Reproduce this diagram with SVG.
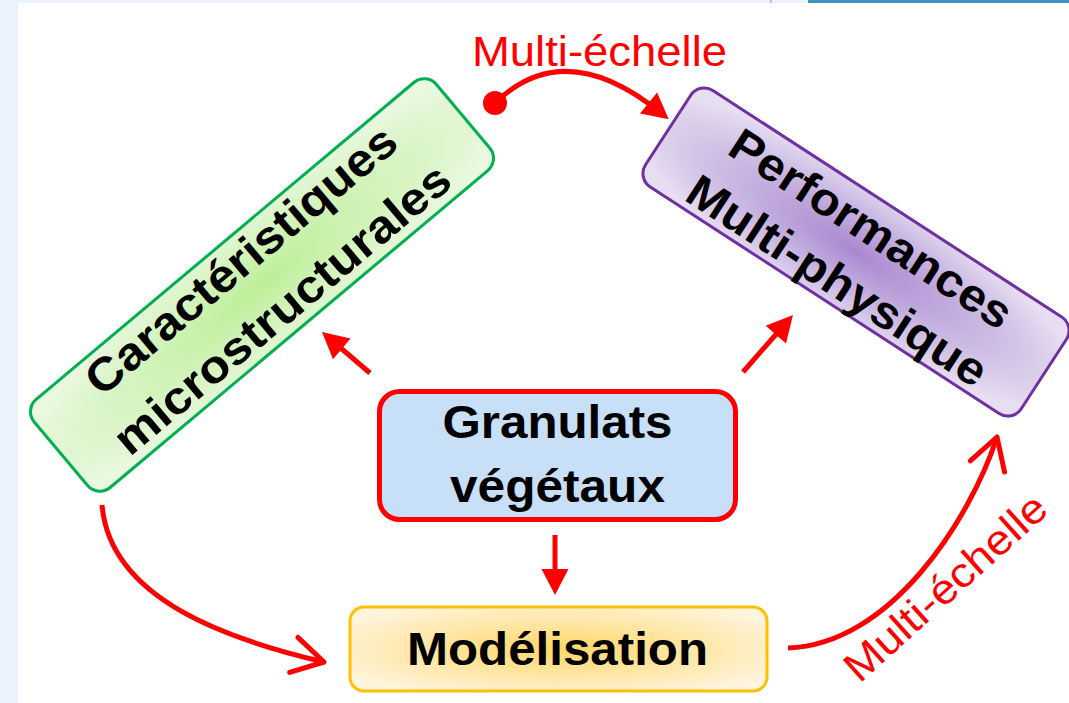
<svg xmlns="http://www.w3.org/2000/svg" width="1069" height="703" viewBox="0 0 1069 703">
<style>
.lbl{font-family:"Liberation Sans",Arial,sans-serif;font-weight:bold;font-size:46px;fill:#000;text-anchor:middle}
.red{font-family:"Liberation Sans",Arial,sans-serif;font-size:42px;fill:#FF0000;text-anchor:middle}
.conn{fill:none;stroke:#FF0000;stroke-width:5}
</style>
<defs>
<radialGradient id="gGreen" cx="0.5" cy="0.5" r="0.6">
<stop offset="0" stop-color="#BDEE97"/>
<stop offset="1" stop-color="#E9F8E0"/>
</radialGradient>
<radialGradient id="gPurple" cx="0.5" cy="0.5" r="0.6">
<stop offset="0" stop-color="#A888D0"/>
<stop offset="1" stop-color="#E6DEF1"/>
</radialGradient>
<radialGradient id="gOrange" cx="0.5" cy="0.5" r="0.6">
<stop offset="0" stop-color="#FFD766"/>
<stop offset="1" stop-color="#FFF4DD"/>
</radialGradient>
<marker id="tri" markerUnits="userSpaceOnUse" markerWidth="60" markerHeight="60" viewBox="-40 -20 60 40" refX="-10" refY="0" orient="auto" overflow="visible">
<path d="M-26,-13.5 L0,0 L-26,13.5 Z" fill="#FF0000"/>
</marker>
<marker id="chev" markerUnits="userSpaceOnUse" markerWidth="60" markerHeight="60" viewBox="-40 -25 60 50" refX="0" refY="0" orient="auto" overflow="visible">
<path d="M-31,-18 L0,0 L-31,18" fill="none" stroke="#FF0000" stroke-width="5" stroke-linecap="round" stroke-linejoin="round"/>
</marker>
</defs>
<rect x="0" y="0" width="1069" height="703" fill="#EAF3FC"/>
<rect x="18" y="3" width="1051" height="700" fill="#FFFFFF"/>
<rect x="808" y="0" width="261" height="3" fill="#3A93C0"/>
<rect x="770" y="0" width="1.5" height="3" fill="#B0B8C0"/>

<g id="node-caracteristiques" transform="translate(262,285) rotate(-40)">
<rect x="-262.5" y="-57.5" width="525" height="115" rx="16" fill="url(#gGreen)" stroke="#00B050" stroke-width="3"/>
<text class="lbl" x="0" y="-17" textLength="391" lengthAdjust="spacingAndGlyphs">Caractéristiques</text>
<text class="lbl" x="0" y="47" textLength="424" lengthAdjust="spacingAndGlyphs">microstructurales</text>
</g>

<g id="node-performances" transform="translate(856,252) rotate(33)">
<rect x="-224" y="-57.5" width="448" height="115" rx="16" fill="url(#gPurple)" stroke="#7030A0" stroke-width="3"/>
<text class="lbl" x="0" y="-12" textLength="327" lengthAdjust="spacingAndGlyphs">Performances</text>
<text class="lbl" x="0" y="50" textLength="348" lengthAdjust="spacingAndGlyphs">Multi-physique</text>
</g>

<g id="node-granulats">
<rect x="379.5" y="391.5" width="356" height="128" rx="20" fill="#C7E0F8" stroke="#FF0000" stroke-width="5"/>
<text class="lbl" x="557.5" y="438" textLength="230" lengthAdjust="spacingAndGlyphs">Granulats</text>
<text class="lbl" x="557.5" y="502" textLength="215" lengthAdjust="spacingAndGlyphs">végétaux</text>
</g>

<g id="node-modelisation">
<rect x="350" y="607" width="417" height="84" rx="14" fill="url(#gOrange)" stroke="#FFC000" stroke-width="3"/>
<text class="lbl" x="557.5" y="665" textLength="301" lengthAdjust="spacingAndGlyphs">Modélisation</text>
</g>

<g id="connectors">
<circle cx="495" cy="103" r="12" fill="#FF0000"/>
<path class="conn" d="M495,103 Q565,35 661,113" marker-end="url(#tri)"/>
<text class="red" x="599.5" y="66" textLength="255" lengthAdjust="spacingAndGlyphs">Multi-échelle</text>
<path class="conn" d="M370,373 L329.6,338.5" marker-end="url(#tri)"/>
<path class="conn" d="M743,372 L786.4,322.5" marker-end="url(#tri)"/>
<path class="conn" d="M555,535 L555,585" marker-end="url(#tri)"/>
<path class="conn" d="M102,505 C110,600 230,640 324,662" marker-end="url(#chev)"/>
<path class="conn" d="M788,648 C890,645 970,520 997,437" marker-end="url(#chev)"/>
<text class="red" transform="translate(955,598) rotate(-42)" x="0" y="0" textLength="257" lengthAdjust="spacingAndGlyphs">Multi-échelle</text>
</g>
</svg>
